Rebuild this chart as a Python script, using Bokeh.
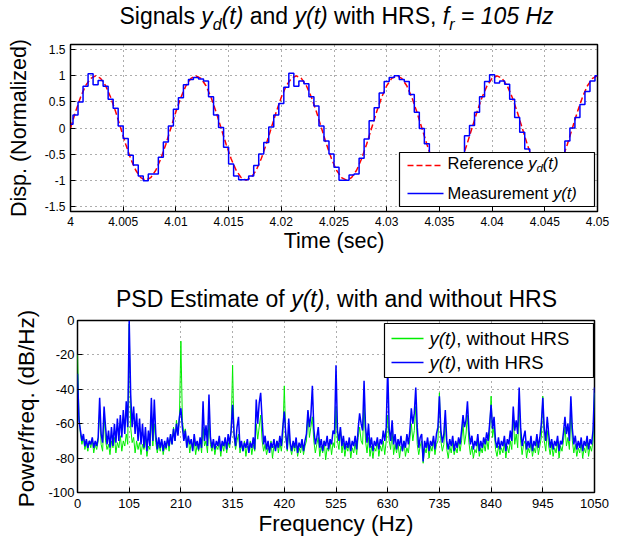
import numpy as np
from bokeh.plotting import figure
from bokeh.layouts import column, row
from bokeh.models import (Range1d, FixedTicker, Label, BoxAnnotation, Arrow,
                          CustomJSTickFormatter)
from bokeh.embed import file_html
from bokeh.resources import INLINE

# ------------------------------------------------------------------ data
T0 = 4.0      # first sample time (s)
FS = 2100.0   # sample rate (Hz)

ref_yd = [
    0.00, 0.31, 0.59, 0.81, 0.95, 1.00, 0.95, 0.81, 0.59, 0.31,
    0.00, -0.31, -0.59, -0.81, -0.95, -1.00, -0.95, -0.81, -0.59, -0.31,
    0.00, 0.31, 0.59, 0.81, 0.95, 1.00, 0.95, 0.81, 0.59, 0.31,
    0.00, -0.31, -0.59, -0.81, -0.95, -1.00, -0.95, -0.81, -0.59, -0.31,
    0.00, 0.31, 0.59, 0.81, 0.95, 1.00, 0.95, 0.81, 0.59, 0.31,
    0.00, -0.31, -0.59, -0.81, -0.95, -1.00, -0.95, -0.81, -0.59, -0.31,
    0.00, 0.31, 0.59, 0.81, 0.95, 1.00, 0.95, 0.81, 0.59, 0.31,
    0.00, -0.31, -0.59, -0.81, -0.95, -1.00, -0.95, -0.81, -0.59, -0.31,
    0.00, 0.31, 0.59, 0.81, 0.95, 1.00, 0.95, 0.81, 0.59, 0.31,
    0.00, -0.31, -0.59, -0.81, -0.95, -1.00, -0.95, -0.81, -0.59, -0.31,
    0.00, 0.31, 0.59, 0.81, 0.95, 1.00,
]

meas_y = [
    0.07, 0.25, 0.50, 0.80, 1.04, 0.83, 0.91, 0.80, 0.55, 0.38,
    0.04, -0.20, -0.52, -0.71, -0.92, -1.01, -0.88, -0.88, -0.56, -0.27,
    0.04, 0.36, 0.58, 0.83, 0.93, 0.97, 0.94, 0.90, 0.60, 0.25,
    0.01, -0.37, -0.69, -0.92, -0.99, -0.99, -0.92, -0.72, -0.50, -0.28,
    0.02, 0.25, 0.47, 0.78, 1.05, 0.80, 0.90, 0.85, 0.60, 0.42,
    0.04, -0.25, -0.50, -0.75, -1.00, -1.00, -0.90, -0.88, -0.58, -0.21,
    0.14, 0.39, 0.67, 0.89, 0.97, 1.00, 0.93, 0.89, 0.64, 0.30,
    -0.01, -0.30, -0.55, -0.80, -0.95, -1.00, -0.95, -0.80, -0.55, -0.15,
    0.05, 0.30, 0.60, 0.89, 1.02, 0.86, 0.90, 0.84, 0.55, 0.20,
    -0.08, -0.40, -0.65, -0.85, -0.96, -1.00, -0.95, -0.80, -0.50, -0.25,
    0.00, 0.20, 0.45, 0.70, 0.90, 1.00,
]

time_ticks = [4.0, 4.005, 4.01, 4.015, 4.02, 4.025, 4.03, 4.035, 4.04, 4.045, 4.05]
time_tick_labels = ["4", "4.005", "4.01", "4.015", "4.02", "4.025", "4.03",
                    "4.035", "4.04", "4.045", "4.05"]
disp_ticks = [-1.5, -1.0, -0.5, 0.0, 0.5, 1.0, 1.5]
disp_tick_labels = ["-1.5", "-1", "-0.5", "0", "0.5", "1", "1.5"]

DF = 3.0      # PSD frequency resolution (Hz)

psd_without_hrs = [
    -20, -55, -66, -72, -68, -75, -71, -76, -70, -74, -69, -77, -72, -75, -70, -52, -72, -76, -55, -70, -75, -72, -78, -70, -74, -68, -77, -71, -74, -67, -76, -70, -73, -66, -72,
    -2, -62, -71, -68, -77, -70, -75, -71, -78, -72, -75, -69, -79, -73, -75, -56, -73, -60, -71, -77, -72, -76, -70, -78, -73, -75, -69, -76, -66, -72, -62, -70, -58, -66, -56,
    -12, -58, -66, -63, -74, -68, -77, -71, -75, -70, -78, -72, -76, -69, -77, -62, -73, -70, -77, -58, -72, -76, -71, -78, -73, -75, -70, -79, -72, -76, -69, -77, -71, -74, -64,
    -26, -68, -75, -70, -66, -77, -72, -76, -70, -79, -73, -75, -70, -78, -72, -76, -60, -69, -62, -55, -70, -76, -72, -78, -74, -76, -70, -80, -73, -75, -70, -77, -71, -76, -68,
    -38, -68, -76, -64, -74, -78, -72, -76, -70, -79, -74, -77, -71, -78, -73, -70, -53, -68, -62, -56, -70, -77, -72, -68, -79, -73, -77, -70, -81, -74, -76, -70, -78, -71, -74,
    -50, -70, -75, -62, -77, -71, -79, -73, -76, -70, -80, -74, -77, -71, -78, -68, -62, -70, -72, -48, -70, -77, -68, -79, -73, -80, -74, -76, -70, -79, -73, -76, -70, -78, -70,
    -55, -70, -75, -64, -78, -72, -77, -71, -80, -73, -76, -70, -79, -74, -77, -69, -60, -70, -64, -50, -72, -78, -73, -70, -83, -74, -77, -71, -80, -73, -76, -70, -78, -72, -70,
    -42, -70, -76, -72, -58, -75, -80, -73, -77, -71, -78, -74, -77, -70, -76, -70, -60, -72, -66, -55, -71, -78, -73, -80, -75, -77, -70, -79, -74, -77, -71, -76, -69, -75, -66,
    -44, -68, -62, -75, -79, -73, -78, -74, -77, -71, -80, -73, -77, -70, -75, -56, -72, -66, -74, -48, -70, -78, -72, -70, -80, -74, -77, -71, -79, -74, -77, -70, -78, -73, -68,
    -44, -70, -76, -64, -73, -78, -72, -79, -74, -77, -70, -80, -73, -76, -70, -62, -73, -68, -75, -52, -70, -77, -72, -79, -74, -77, -71, -80, -74, -77, -70, -79, -73, -76, -70,
    -42,
]

psd_with_hrs = [
    -31, -58, -64, -70, -66, -73, -69, -74, -70, -72, -68, -74, -70, -73, -68, -45, -66, -71, -50, -62, -72, -64, -74, -62, -73, -60, -71, -57, -70, -55, -68, -52, -66, -47, -62,
    0, -43, -62, -50, -66, -54, -70, -57, -72, -60, -74, -62, -76, -64, -73, -45, -70, -46, -66, -75, -68, -74, -69, -76, -70, -74, -68, -73, -66, -72, -63, -70, -60, -67, -56,
    -51, -62, -70, -64, -74, -67, -72, -69, -76, -66, -73, -70, -75, -68, -74, -47, -70, -61, -73, -43, -68, -74, -69, -75, -70, -73, -67, -76, -70, -73, -68, -75, -66, -72, -64,
    -49, -66, -73, -62, -56, -74, -70, -76, -71, -74, -69, -77, -71, -74, -68, -75, -46, -60, -48, -42, -58, -72, -67, -75, -70, -77, -71, -74, -69, -76, -70, -74, -67, -73, -62,
    -53, -66, -75, -57, -71, -76, -70, -74, -68, -77, -71, -74, -69, -76, -70, -66, -52, -62, -55, -38, -63, -72, -68, -62, -74, -69, -76, -70, -73, -67, -75, -69, -72, -64, -66,
    -26, -64, -70, -62, -73, -67, -75, -70, -74, -68, -76, -70, -73, -67, -75, -63, -54, -60, -64, -35, -62, -71, -60, -74, -68, -76, -70, -73, -68, -75, -69, -72, -64, -70, -62,
    -27, -63, -70, -58, -72, -66, -75, -69, -73, -67, -76, -70, -74, -66, -72, -64, -51, -60, -54, -39, -62, -74, -68, -66, -82, -70, -74, -68, -76, -70, -73, -67, -75, -66, -62,
    -44, -64, -71, -66, -52, -70, -75, -69, -73, -67, -76, -70, -74, -68, -72, -64, -55, -62, -58, -47, -64, -72, -67, -75, -70, -73, -66, -76, -70, -74, -68, -72, -65, -70, -60,
    -49, -63, -56, -70, -74, -68, -75, -70, -73, -67, -76, -69, -72, -64, -70, -50, -64, -58, -66, -39, -62, -73, -68, -64, -75, -70, -74, -67, -76, -70, -73, -66, -74, -68, -60,
    -45, -63, -70, -56, -66, -74, -69, -75, -70, -73, -67, -76, -70, -72, -65, -56, -66, -60, -70, -44, -63, -72, -67, -75, -70, -74, -68, -76, -70, -73, -67, -75, -69, -72, -64,
    -39,
]

freq_ticks = [0, 105, 210, 315, 420, 525, 630, 735, 840, 945, 1050]
freq_tick_labels = ["0", "105", "210", "315", "420", "525", "630", "735", "840", "945", "1050"]
psd_ticks = [-100, -80, -60, -40, -20, 0]
psd_tick_labels = ["-100", "-80", "-60", "-40", "-20", "0"]

# ------------------------------------------------------------------ helpers
FONT = "Liberation Sans"
CW = {' ': 278, '(': 333, ')': 333, ',': 278, '.': 278, '/': 278, '=': 584,
      'A': 667, 'B': 667, 'C': 722, 'D': 722, 'E': 667, 'F': 611, 'H': 722,
      'M': 833, 'N': 722, 'P': 667, 'R': 722, 'S': 667, 'T': 611,
      'a': 556, 'c': 500, 'd': 556, 'e': 556, 'f': 278, 'g': 556, 'h': 556,
      'i': 222, 'l': 222, 'm': 833, 'n': 556, 'o': 556, 'p': 556, 'q': 556,
      'r': 333, 's': 500, 't': 278, 'u': 556, 'w': 722, 'y': 500, 'z': 500}
BASE_SHIFT = 0.32   # observed offset of the drawn baseline, in em


def tw(s, size):
    return sum(CW.get(c, 556) for c in s) * size / 1000.0


class Frame:
    def __init__(self, L, R, T, B, x0, x1, y0, y1):
        self.L, self.R, self.T, self.B = L, R, T, B
        self.x0, self.x1, self.y0, self.y1 = x0, x1, y0, y1

    def x(self, px):
        return self.x0 + (px - self.L) / (self.R - self.L) * (self.x1 - self.x0)

    def y(self, py):
        return self.y1 - (py - self.T) / (self.B - self.T) * (self.y1 - self.y0)


def fmt(tv, tl):
    return CustomJSTickFormatter(
        args=dict(tvals=list(tv), tlabs=list(tl)),
        code="const i = tvals.findIndex(v => Math.abs(v - tick) < 1e-9); return i >= 0 ? tlabs[i] : '';")


def style(p, xt, xl, yt, yl, tsize, xstand, ystand):
    p.outline_line_color = "black"
    p.outline_line_width = 1.5
    p.outline_line_alpha = 1.0
    p.xaxis.ticker = FixedTicker(ticks=xt)
    p.yaxis.ticker = FixedTicker(ticks=yt)
    p.xaxis.formatter = fmt(xt, xl)
    p.yaxis.formatter = fmt(yt, yl)
    p.xaxis.major_label_standoff = xstand
    p.yaxis.major_label_standoff = ystand
    for ax in (p.xaxis, p.yaxis):
        ax.major_label_text_font = FONT
        ax.major_label_text_font_size = tsize
        ax.major_label_text_color = "black"
        ax.axis_line_color = None
        ax.major_tick_in = 5
        ax.major_tick_out = 0
        ax.major_tick_line_color = "black"
        ax.minor_tick_line_color = None
        ax.axis_label_text_font = FONT
        ax.axis_label_text_font_style = "normal"
        ax.axis_label_text_color = "black"
    for g in (p.xgrid, p.ygrid):
        g.grid_line_color = "#333333"
        g.grid_line_alpha = 0.8
        g.grid_line_dash = "1 4"
        g.grid_line_width = 1


def runs(p, fr, items, x0px, base_py, center=False):
    total = sum(tw(t, s) for t, s, _, _ in items)
    x = x0px - total / 2.0 if center else x0px
    for text, size, italic, dy in items:
        lead = len(text) - len(text.lstrip(" "))
        body = text.strip(" ")
        xs = x + tw(text[:lead], size)
        if body:
            p.add_layout(Label(x=fr.x(xs), y=fr.y(base_py + dy - BASE_SHIFT * size), text=body,
                               text_font=FONT, text_font_size=f"{size}px",
                               text_font_style="italic" if italic else "normal",
                               text_color="black", text_align="left",
                               text_baseline="alphabetic"))
        x += tw(text, size)


def legend_box(p, fr, L, T, R, B):
    p.add_layout(BoxAnnotation(left=fr.x(L), right=fr.x(R), top=fr.y(T), bottom=fr.y(B),
                               fill_color="white", fill_alpha=1.0,
                               line_color="black", line_width=1.2, line_alpha=1.0))


def sample(p, fr, x1, x2, py, color, dash="solid", width=1.5):
    p.add_layout(Arrow(end=None, x_start=fr.x(x1), y_start=fr.y(py),
                       x_end=fr.x(x2), y_end=fr.y(py),
                       line_color=color, line_width=width, line_dash=dash))


def strip(L, R, T, B, bl, br):
    """Blank figure whose frame spans page pixels L..R x T..B (data = page px)."""
    s = figure(frame_width=R - L, frame_height=B - T,
               min_border_left=bl, min_border_right=br, min_border_top=0, min_border_bottom=0,
               x_range=Range1d(L, R), y_range=Range1d(B, T),
               x_axis_type=None, y_axis_type=None,
               output_backend="svg", toolbar_location=None, title=None,
               background_fill_color="white", border_fill_color="white")
    s.outline_line_color = None
    s.grid.visible = False
    return s, Frame(L, R, T, B, L, R, B, T)


# ------------------------------------------------------------------ top title strip
TOP_H = 36
t1, FT1 = strip(70, 597, 0, TOP_H, 70, 20)
runs(t1, FT1, [("Signals ", 23, False, 0), ("y", 23, True, 0), ("d", 16, True, 6),
               ("(t)", 23, True, 0), (" and ", 23, False, 0), ("y(t)", 23, True, 0),
               (" with HRS, ", 23, False, 0), ("f", 23, True, 0), ("r", 16, True, 6),
               (" = 105 Hz", 23, True, 0)], 336, 23, center=True)

# ------------------------------------------------------------------ top plot
F1 = Frame(70, 597, 44, 211, 4.0, 4.05, -1.6, 1.6)
p1 = figure(frame_width=527, frame_height=167,
            min_border_left=70, min_border_right=20, min_border_top=44 - TOP_H, min_border_bottom=44,
            x_range=Range1d(4.0, 4.05), y_range=Range1d(-1.6, 1.6),
            output_backend="svg", toolbar_location=None, title=None,
            background_fill_color="white", border_fill_color="white")
style(p1, time_ticks, time_tick_labels, disp_ticks, disp_tick_labels, "12px", 5, 5)
p1.xaxis.axis_label = "Time (sec)"
p1.xaxis.axis_label_text_font_size = "21.5px"
p1.xaxis.axis_label_standoff = 0
p1.yaxis.axis_label = "Disp. (Normalized)"
p1.yaxis.axis_label_text_font_size = "21.5px"
p1.yaxis.axis_label_standoff = 11

t = T0 + np.arange(len(meas_y)) / FS
t_ref = T0 + np.arange(len(ref_yd)) / FS
p1.line(t_ref, ref_yd, line_color="#ff0000", line_width=1.5, line_dash="6 3")
p1.step(t, meas_y, mode="center", line_color="#0000ff", line_width=1.5)

legend_box(p1, F1, 399, 152, 594, 206)
sample(p1, F1, 407, 443, 165, "#ff0000", dash="6 3")
sample(p1, F1, 407, 443, 193, "#0000ff")
runs(p1, F1, [("Reference ", 16.5, False, 0), ("y", 16.5, True, 0), ("d", 11.5, True, 4),
              ("(t)", 16.5, True, 0)], 447, 167.5)
runs(p1, F1, [("Measurement ", 16.5, False, 0), ("y(t)", 16.5, True, 0)], 447, 198)

# ------------------------------------------------------------------ bottom block
ROW_TOP, TITLE_BOTTOM, PAGE_BOTTOM = 255, 312, 540
STRIP_W = 45

# left strip holding the rotated y label of the PSD plot
ys, FYS = strip(0, STRIP_W, ROW_TOP, PAGE_BOTTOM, 0, 0)
ys.add_layout(Label(x=FYS.x(33 - BASE_SHIFT * 22.5), y=FYS.y(408), text="Power/freq. (dB/Hz)",
                    angle=np.pi / 2, text_font=FONT, text_font_size="22.5px",
                    text_color="black", text_align="center", text_baseline="alphabetic"))

# title strip above the PSD plot
t2, FT2 = strip(76, 593, ROW_TOP, TITLE_BOTTOM, 76 - STRIP_W, 24)
runs(t2, FT2, [("PSD Estimate of ", 23, False, 0), ("y(t)", 23, True, 0),
               (", with and without HRS", 23, False, 0)], 335, 306, center=True)

F2 = Frame(76, 593, 320, 492, 0.0, 1050.0, -100.0, 0.0)
p2 = figure(frame_width=517, frame_height=172,
            min_border_left=76 - STRIP_W, min_border_right=24,
            min_border_top=320 - TITLE_BOTTOM, min_border_bottom=PAGE_BOTTOM - 492,
            x_range=Range1d(0, 1050), y_range=Range1d(-100, 0),
            output_backend="svg", toolbar_location=None, title=None,
            background_fill_color="white", border_fill_color="white")
style(p2, freq_ticks, freq_tick_labels, psd_ticks, psd_tick_labels, "13px", 6, 3)
p2.xaxis.axis_label = "Frequency (Hz)"
p2.xaxis.axis_label_text_font_size = "22.5px"
p2.xaxis.axis_label_standoff = 0

f_wo = np.arange(len(psd_without_hrs)) * DF
f_w = np.arange(len(psd_with_hrs)) * DF
p2.line(f_wo, psd_without_hrs, line_color="#00ee00", line_width=1.0)
p2.line(f_w, psd_with_hrs, line_color="#0000ff", line_width=1.5)

legend_box(p2, F2, 383, 323, 592, 377)
sample(p2, F2, 390, 422, 338, "#00ee00")
sample(p2, F2, 390, 422, 362, "#0000ff")
runs(p2, F2, [("y(t)", 18.5, True, 0), (", without HRS", 18.5, False, 0)], 428, 343.5)
runs(p2, F2, [("y(t)", 18.5, True, 0), (", with HRS", 18.5, False, 0)], 428, 367.5)

layout = column(t1, p1, row(ys, column(t2, p2)))
open("out.html", "w").write(file_html(layout, INLINE))
